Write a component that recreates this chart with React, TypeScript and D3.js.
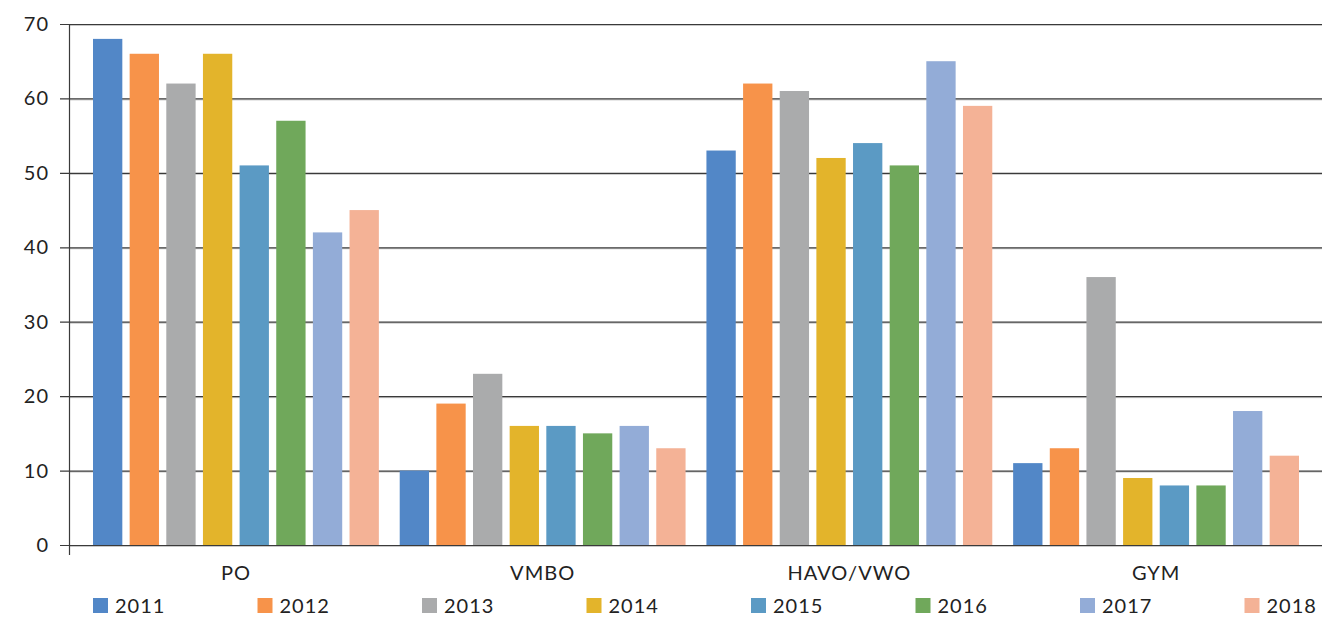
import React from "react"
import * as d3 from "d3"

const categories = ["PO", "VMBO", "HAVO/VWO", "GYM"]
const years = ["2011", "2012", "2013", "2014", "2015", "2016", "2017", "2018"]
const colors = ["#5287c7", "#f7934a", "#aaabac", "#e3b42b", "#5b9ac4", "#70a85b", "#93acd7", "#f4b296"]

// values per year, in order of categories
const v2011 = [68, 10, 53, 11]
const v2012 = [66, 19, 62, 13]
const v2013 = [62, 23, 61, 36]
const v2014 = [66, 16, 52, 9]
const v2015 = [51, 16, 54, 8]
const v2016 = [57, 15, 51, 8]
const v2017 = [42, 16, 65, 18]
const v2018 = [45, 13, 59, 12]
const series = [v2011, v2012, v2013, v2014, v2015, v2016, v2017, v2018]

const yTicks = [0, 10, 20, 30, 40, 50, 60, 70]

const width = 1322
const height = 617
const axisX = 69
const plotRight = 1322
const yTop = 24
const yBottom = 545

const App: React.FC = () => {
  const y = d3.scaleLinear().domain([0, 70]).range([yBottom, yTop])
  const x0 = d3.scaleBand().domain(categories).range([93, 1299]).paddingInner(0.068).paddingOuter(0)
  const x1 = d3.scaleBand().domain(years).range([0, x0.bandwidth()]).paddingInner(0.2).paddingOuter(0)
  const legendX = d3.scalePoint().domain(years).range([93, 93 + 7 * 164.5])
  const font = "Lato, 'Open Sans', sans-serif"
  const txt = { fontSize: 20, fontFamily: font, fill: "#222", letterSpacing: 1 }

  return (
    <svg width={width} height={height} style={{ position: "absolute", left: 0, top: 0 }}>
      <rect width={width} height={height} fill="#fff" />
      {yTicks.map((t) => (
        <g key={t}>
          <line x1={axisX} x2={plotRight} y1={y(t) + 1.5} y2={y(t) + 1.5} stroke="#c8c8c8" strokeWidth={1} />
          <line x1={60} x2={plotRight} y1={y(t) + 0.5} y2={y(t) + 0.5} stroke="#3a3a3a" strokeWidth={1.2} />
          <text x={49} y={y(t)} dy="0.35em" textAnchor="end" {...txt}>
            {t}
          </text>
        </g>
      ))}
      <line x1={axisX + 0.5} x2={axisX + 0.5} y1={yTop} y2={555} stroke="#3a3a3a" strokeWidth={1.2} />
      {categories.map((c, ci) => (
        <g key={c} transform={`translate(${x0(c)},0)`}>
          {years.map((yr, yi) => (
            <rect
              key={yr}
              x={x1(yr)}
              y={y(series[yi][ci])}
              width={x1.bandwidth()}
              height={yBottom - y(series[yi][ci])}
              fill={colors[yi]}
            />
          ))}
          <text x={x0.bandwidth() / 2} y={580} textAnchor="middle" {...txt}>
            {c}
          </text>
        </g>
      ))}
      {years.map((yr, i) => (
        <g key={yr} transform={`translate(${legendX(yr)},598)`}>
          <rect width={15} height={15} fill={colors[i]} />
          <text x={22} y={7.5} dy="0.36em" {...txt}>
            {yr}
          </text>
        </g>
      ))}
    </svg>
  )
}

export default App
